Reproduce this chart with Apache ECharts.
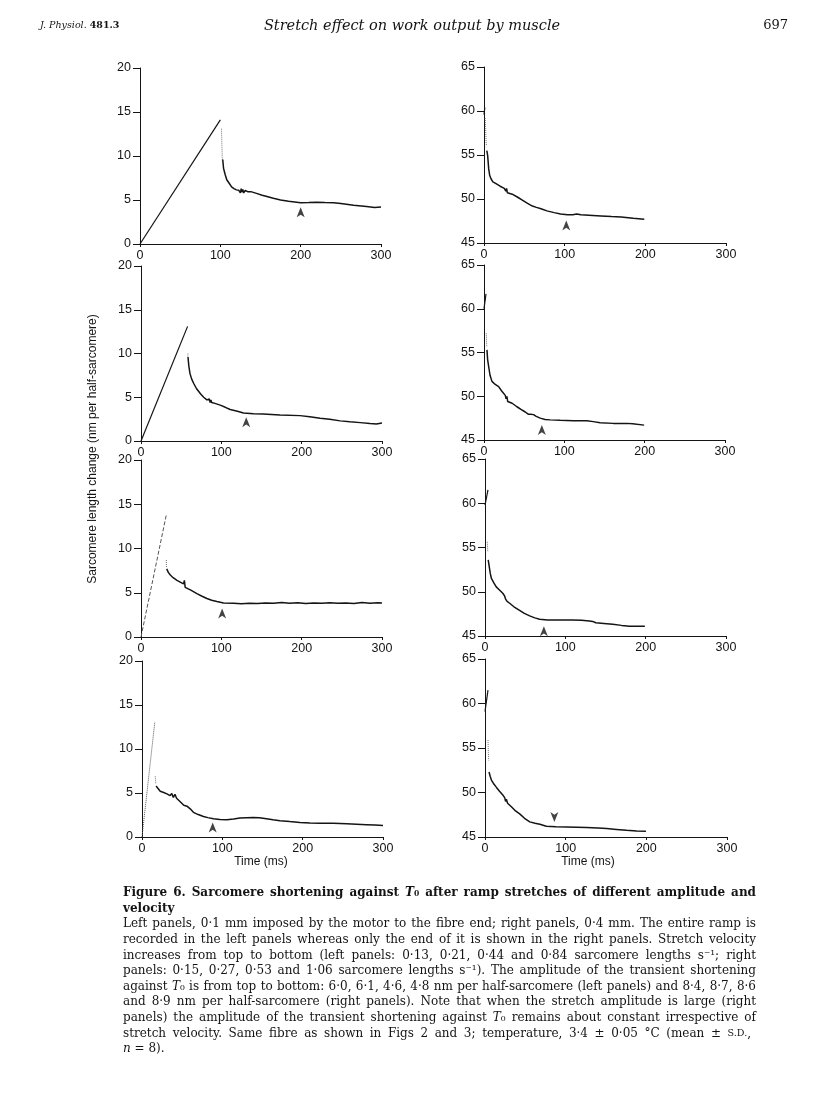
<!DOCTYPE html>
<html><head><meta charset="utf-8">
<script src="https://cdn.jsdelivr.net/npm/echarts@6/dist/echarts.min.js"></script>
<style>html,body{margin:0;padding:0;background:#fff}#c{width:816px;height:1110px}</style>
</head><body><div id="c"></div><script>
// ---------------- DATA ----------------
const timeTicks = [0, 100, 200, 300];
const leftYRange = [0, 20];
const rightYRange = [45, 65];

// Left panels (0.1 mm stretch)
const L1_ramp = [[0,0],[100,14.1]];
const L1_jump = [[101.5,13.1],[102,11.0],[102.5,9.4]];
const L1_decay = [[103,9.6],[104,8.6],[106,7.9],[108,7.3],[111,6.9],[114,6.5],[117,6.3],[120,6.15],[123,6.1],[125,5.8],[126,6.3],[127,5.9],[128,6.2],[129,5.8],[131,6.1],[134,5.95],[138,5.95],[145,5.75],[152,5.55],[158,5.4],[166,5.2],[175,5.0],[185,4.85],[200,4.7],[210,4.72],[220,4.75],[230,4.72],[241,4.7],[250,4.6],[266,4.4],[282,4.25],[292,4.15],[300,4.2]];
const L1_arrow = [[200,3.6]];

const L2_ramp = [[0,0],[58,13.1]];
const L2_jump = [[58.3,10.0],[58.5,9.6]];
const L2_decay = [[58.5,9.6],[59.5,8.6],[61,7.7],[63,7.1],[65.5,6.6],[69,6.0],[74,5.4],[78,5.0],[82,4.7],[84,4.5],[85,4.8],[86,4.4],[87,4.7],[88,4.4],[92,4.3],[98.6,4.1],[105,3.85],[111,3.6],[120,3.4],[127.6,3.2],[140,3.12],[152,3.08],[173,2.96],[198,2.9],[210,2.78],[223,2.6],[235,2.48],[248,2.3],[260,2.2],[273,2.1],[285,2.0],[293,1.95],[300,2.05]];
const L2_arrow = [[131,2.15]];

const L3_ramp = [[0,0],[31.5,13.8]];
const L3_jump = [[31.5,8.7],[31.8,7.9]];
const L3_decay = [[32,7.7],[34,7.3],[36.5,7.0],[40,6.7],[44.8,6.4],[50,6.15],[53,6.0],[54,6.4],[55,5.6],[57,5.55],[62,5.3],[69.6,4.9],[76,4.6],[82,4.35],[88,4.15],[94.5,4.0],[102.7,3.85],[115,3.8],[125,3.75],[135,3.82],[145,3.78],[155,3.85],[165,3.8],[175,3.9],[185,3.8],[195,3.88],[205,3.78],[215,3.85],[225,3.8],[235,3.88],[245,3.8],[255,3.85],[265,3.78],[275,3.9],[285,3.82],[295,3.88],[300,3.85]];
const L3_arrow = [[101,2.65]];

const L4_ramp = [[0,0],[16,13.1]];
const L4_jump = [[16.5,6.9],[17.2,6.0]];
const L4_decay = [[17.5,5.8],[19,5.6],[22.7,5.2],[27,5.05],[31,4.9],[35,4.7],[37,4.95],[39,4.5],[41,4.85],[43,4.4],[45,4.3],[47.6,4.0],[50,3.9],[52,3.6],[54,3.8],[56,3.5],[58,3.3],[60,3.2],[64,2.8],[70,2.55],[76.5,2.33],[82,2.2],[89,2.07],[97,2.0],[105.6,1.96],[114,2.05],[122,2.15],[130,2.2],[138.6,2.22],[146,2.2],[155,2.07],[163,1.95],[171.8,1.85],[184,1.75],[196.6,1.66],[209,1.6],[221.5,1.55],[238,1.55],[254.7,1.5],[267,1.45],[279.5,1.4],[290,1.35],[300,1.3]];
const L4_arrow = [[88,1.09]];

// Right panels (0.4 mm stretch)
const R1_ramp = [[0,59.6],[1,60.4]];
const R1_jump = [[1.5,59.2],[2,58],[2.5,56.8],[3,56]];
const R1_decay = [[3.5,55.5],[4.5,54.97],[5.8,53.45],[7,52.7],[8.7,52.3],[11,51.95],[14.9,51.75],[20,51.45],[25.2,51.2],[27,50.9],[28,51.2],[29,50.7],[31,50.8],[35,50.55],[41.8,50.2],[48,49.85],[54,49.5],[60,49.2],[65,49.05],[70.7,48.9],[78,48.65],[87,48.45],[95,48.3],[103.7,48.2],[110,48.2],[115,48.3],[120,48.2],[130,48.15],[145,48.07],[158,48.0],[170,47.95],[185,47.8],[198.7,47.7]];
const R1_arrow = [[102,47.0]];

const R2_ramp = [[0,60],[2.5,61.7]];
const R2_jump = [[2.8,57.2],[3.2,56.3],[3.5,55.6]];
const R2_decay = [[3.7,55.3],[4.5,54.2],[5.8,53.4],[7.5,52.4],[9.9,51.7],[14,51.35],[18.2,51.1],[22,50.6],[26.5,50.1],[27.5,49.7],[28.5,50.0],[29.5,49.4],[31,49.5],[35,49.2],[41,48.8],[46,48.5],[51.4,48.2],[55,47.95],[58,47.95],[61.7,47.9],[65,47.7],[70,47.5],[76,47.35],[82.4,47.3],[95,47.25],[111.4,47.2],[128,47.2],[136,47.1],[144.6,46.98],[161,46.9],[177.8,46.9],[185,46.85],[199.3,46.7]];
const R2_arrow = [[72,46.14]];

const R3_ramp = [[0,59.8],[3.7,61.5]];
const R3_jump = [[2.8,55.65],[3.5,54.5]];
const R3_decay = [[4,53.6],[5,53.0],[6.5,52.1],[8,51.5],[11,51.0],[14,50.55],[18,50.2],[22.4,49.8],[24.5,49.5],[25.5,49.2],[26.5,49.35],[27.5,48.9],[29,49.05],[30.7,48.7],[36,48.3],[43,47.9],[49,47.55],[55.6,47.27],[62,47.05],[68,46.9],[78,46.8],[88.7,46.8],[109,46.8],[120,46.78],[130,46.7],[134,46.65],[138,46.5],[148,46.42],[159,46.33],[170,46.2],[180,46.1],[199,46.1]];
const R3_arrow = [[73.3,45.53]];

const R4_ramp = [[0,59.1],[3.7,61.5]];
const R4_jump = [[3.7,55.9],[4.2,54.5],[4.6,53.6]];
const R4_decay = [[5,52.3],[6.5,51.8],[8,51.4],[11,50.95],[14,50.6],[18,50.15],[22.3,49.7],[24.5,49.4],[25.5,49.0],[26.5,49.25],[28,48.8],[30,48.85],[32.7,48.4],[37,48.0],[43,47.6],[49,47.1],[55.5,46.7],[62,46.55],[68,46.43],[76,46.2],[88,46.15],[101,46.13],[126,46.06],[140,46.0],[150.7,45.95],[163,45.85],[175.5,45.75],[188,45.68],[199.5,45.64]];
const R4_arrow = [[86,47.25]];

// ---------------- LAYOUT / STYLE ----------------
const panels = [
  {grid:{left:140,top:68,width:241,height:176}, y:leftYRange, ramp:L1_ramp, rampType:'solid', jump:L1_jump, decay:L1_decay, arrow:L1_arrow, down:false},
  {grid:{left:484,top:67,width:242,height:176}, y:rightYRange, ramp:R1_ramp, rampType:'solid', jump:R1_jump, decay:R1_decay, arrow:R1_arrow, down:false},
  {grid:{left:141,top:266,width:241,height:175}, y:leftYRange, ramp:L2_ramp, rampType:'solid', jump:L2_jump, decay:L2_decay, arrow:L2_arrow, down:false},
  {grid:{left:484,top:265,width:241,height:175}, y:rightYRange, ramp:R2_ramp, rampType:'solid', jump:R2_jump, decay:R2_decay, arrow:R2_arrow, down:false},
  {grid:{left:141,top:460,width:241,height:177}, y:leftYRange, ramp:L3_ramp, rampType:'dashed', jump:L3_jump, decay:L3_decay, arrow:L3_arrow, down:false},
  {grid:{left:485,top:459,width:241,height:177}, y:rightYRange, ramp:R3_ramp, rampType:'solid', jump:R3_jump, decay:R3_decay, arrow:R3_arrow, down:false},
  {grid:{left:142,top:661,width:241,height:176}, y:leftYRange, ramp:L4_ramp, rampType:'dotted', jump:L4_jump, decay:L4_decay, arrow:L4_arrow, down:false},
  {grid:{left:485,top:659,width:242,height:178}, y:rightYRange, ramp:R4_ramp, rampType:'solid', jump:R4_jump, decay:R4_decay, arrow:R4_arrow, down:true}
];

const INK = '#141414';
const SANS = '"Liberation Sans", Arial, Helvetica, sans-serif';
const SERIF = '"DejaVu Serif", "Liberation Serif", serif';
const ARROW = 'path://M5,0 L10,13 L5,9.5 L0,13 Z';

const grids = [], xAxes = [], yAxes = [], series = [];
panels.forEach((p, i) => {
  grids.push(Object.assign({containLabel:false}, p.grid));
  xAxes.push({type:'value', gridIndex:i, min:timeTicks[0], max:timeTicks[timeTicks.length-1], interval:timeTicks[1]-timeTicks[0],
    axisLine:{show:true, onZero:false, lineStyle:{color:INK, width:1}},
    axisTick:{show:true, length:3, lineStyle:{color:INK, width:1}},
    axisLabel:{color:INK, fontFamily:SANS, fontSize:12.5, margin:5},
    splitLine:{show:false}});
  yAxes.push({type:'value', gridIndex:i, min:p.y[0], max:p.y[1], interval:5,
    axisLine:{show:true, onZero:false, lineStyle:{color:INK, width:1}},
    axisTick:{show:true, length:7, lineStyle:{color:INK, width:1}},
    axisLabel:{color:INK, fontFamily:SANS, fontSize:12.5, margin:9},
    splitLine:{show:false}});
  const base = {xAxisIndex:i, yAxisIndex:i, symbol:'none', silent:true, animation:false};
  series.push(Object.assign({type:'line', data:p.ramp, lineStyle:{color: p.rampType==='solid'?INK:'#555', width: p.rampType==='solid'?1.2:1, type:p.rampType}}, base));
  series.push(Object.assign({type:'line', data:p.jump, lineStyle:{color:'#777', width:1, type:'dotted'}}, base));
  series.push(Object.assign({type:'line', data:p.decay, lineStyle:{color:INK, width:1.5}}, base));
  series.push({type:'scatter', xAxisIndex:i, yAxisIndex:i, data:p.arrow, symbol:ARROW, symbolSize:[8,10], symbolRotate:p.down?180:0,
    itemStyle:{color:INK}, silent:true, animation:false});
});

// ---------------- TEXT ----------------
const captionLines = [
  'Figure 6. Sarcomere shortening against {it|T}₀ after ramp stretches of different amplitude and',
  'velocity',
  'Left panels, 0·1 mm imposed by the motor to the fibre end; right panels, 0·4 mm. The entire ramp is',
  'recorded in the left panels whereas only the end of it is shown in the right panels. Stretch velocity',
  'increases from top to bottom (left panels: 0·13, 0·21, 0·44 and 0·84 sarcomere lengths s⁻¹; right',
  'panels: 0·15, 0·27, 0·53 and 1·06 sarcomere lengths s⁻¹). The amplitude of the transient shortening',
  'against {it|T}₀ is from top to bottom: 6·0, 6·1, 4·6, 4·8 nm per half-sarcomere (left panels) and 8·4, 8·7, 8·6',
  'and 8·9 nm per half-sarcomere (right panels). Note that when the stretch amplitude is large (right',
  'panels) the amplitude of the transient shortening against {it|T}₀ remains about constant irrespective of',
  'stretch velocity. Same fibre as shown in Figs 2 and 3; temperature, 3·4 ± 0·05 °C (mean ± {sc|S.D.},',
  '{it|n} = 8).'
];
const paragraphEnds = [1, 10];
const boldLines = [0, 1];

const measureCtx = document.createElement('canvas').getContext('2d');
const plain = w => w.replace(/\{\w+\|([^}]*)\}/g, '$1');
function textW(t, font){ measureCtx.font = font; return measureCtx.measureText(plain(t)).width; }

const CAP_X = 123, CAP_W = 633, CAP_Y = 893, CAP_LH = 15.6;
// choose font size so the longest justified line fits
let capFS = 20;
captionLines.forEach((l, i) => {
  if (paragraphEnds.includes(i)) return;
  const f = (boldLines.includes(i)?'bold ':'') + '10px ' + SERIF;
  const w = textW(l, f);
  capFS = Math.min(capFS, 10 * CAP_W * 0.985 / w);
});
capFS = Math.floor(capFS * 10) / 10;

const graphics = [];
function richFor(fs, weight){
  return {
    it:{fontStyle:'italic', fontSize:fs, fontFamily:SERIF, fontWeight:weight, fill:INK, color:INK},
    sc:{fontSize:fs*0.8, fontFamily:SERIF, fontWeight:weight, fill:INK, color:INK}
  };
}
captionLines.forEach((line, i) => {
  const weight = boldLines.includes(i) ? 'bold' : 'normal';
  const font = (weight==='bold'?'bold ':'') + capFS + 'px ' + SERIF;
  const words = line.split(' ');
  const widths = words.map(w => textW(w, font));
  const total = widths.reduce((a,b)=>a+b, 0);
  const justify = !paragraphEnds.includes(i) && words.length > 1;
  const gap = justify ? (CAP_W - total) / (words.length - 1) : textW(' ', font);
  let x = CAP_X;
  const y = CAP_Y + i * CAP_LH;
  words.forEach((w, k) => {
    graphics.push({type:'text', x:x, y:y, silent:true, style:{text:w, fill:INK, fontFamily:SERIF, fontSize:capFS, fontWeight:weight,
      align:'left', verticalAlign:'middle', textAlign:'left', textVerticalAlign:'middle', rich:richFor(capFS, weight)}});
    x += widths[k] + gap;
  });
});

// header
graphics.push({type:'text', x:40, y:26, silent:true, style:{text:'J. Physiol. {b|481.3}', fill:INK, fontFamily:SERIF, fontStyle:'italic', fontSize:9.5,
  align:'left', verticalAlign:'middle', textAlign:'left', textVerticalAlign:'middle', rich:{b:{fontFamily:SERIF, fontWeight:'bold', fontSize:9.5, fill:INK}}}});
graphics.push({type:'text', x:412, y:26, silent:true, style:{text:'Stretch effect on work output by muscle', fill:INK, fontFamily:SERIF, fontStyle:'italic', fontSize:14.5,
  align:'center', verticalAlign:'middle', textAlign:'center', textVerticalAlign:'middle'}});
graphics.push({type:'text', x:788, y:26, silent:true, style:{text:'697', fill:INK, fontFamily:SERIF, fontSize:13,
  align:'right', verticalAlign:'middle', textAlign:'right', textVerticalAlign:'middle'}});

// axis titles
graphics.push({type:'text', x:93, y:449, rotation:Math.PI/2, silent:true, style:{text:'Sarcomere length change (nm per half-sarcomere)', fill:INK, fontFamily:SANS, fontSize:12,
  align:'center', verticalAlign:'middle', textAlign:'center', textVerticalAlign:'middle'}});
graphics.push({type:'text', x:261, y:862, silent:true, style:{text:'Time (ms)', fill:INK, fontFamily:SANS, fontSize:12,
  align:'center', verticalAlign:'middle', textAlign:'center', textVerticalAlign:'middle'}});
graphics.push({type:'text', x:588, y:862, silent:true, style:{text:'Time (ms)', fill:INK, fontFamily:SANS, fontSize:12,
  align:'center', verticalAlign:'middle', textAlign:'center', textVerticalAlign:'middle'}});

const chart = echarts.init(document.getElementById('c'), null, {renderer:'canvas'});
chart.setOption({
  backgroundColor:'#ffffff',
  animation:false,
  grid:grids, xAxis:xAxes, yAxis:yAxes, series:series,
  graphic:{elements:graphics}
});
</script></body></html>
